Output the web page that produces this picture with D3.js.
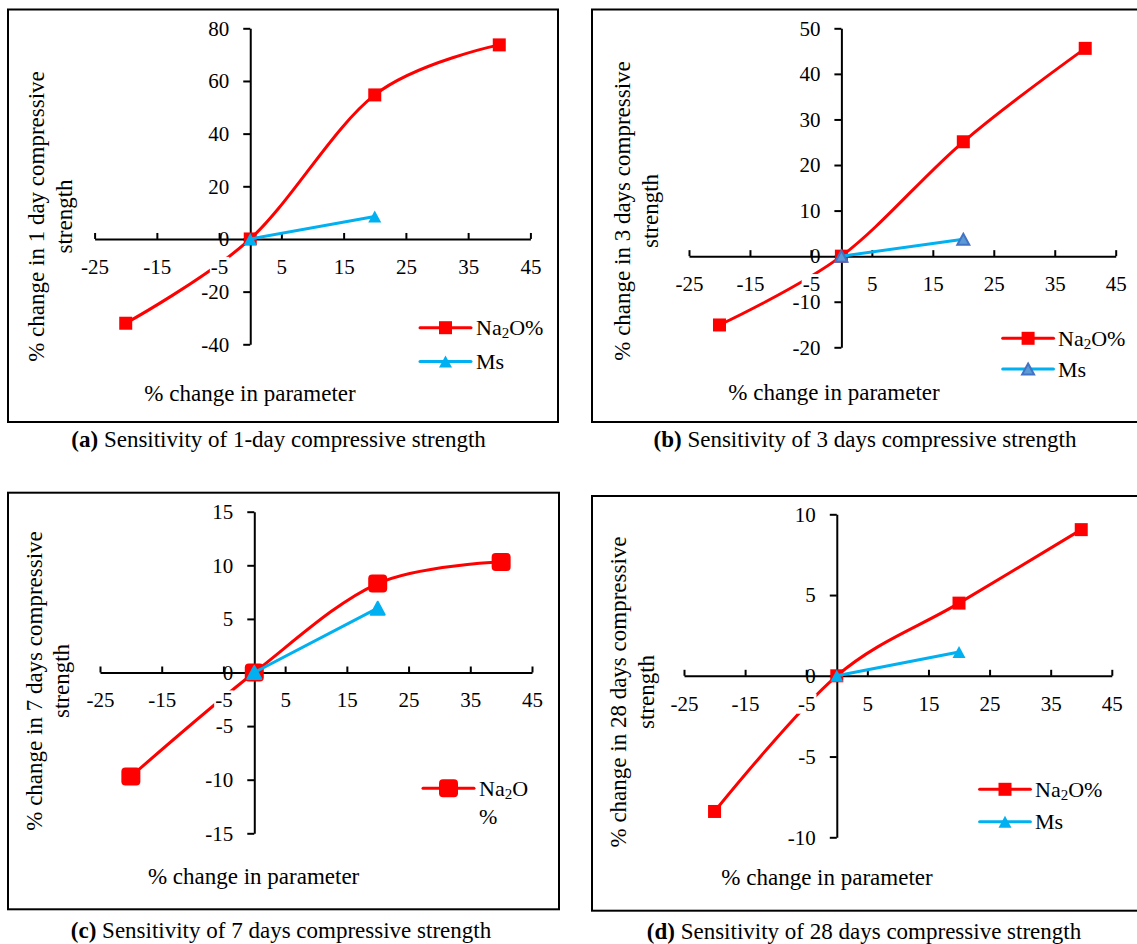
<!DOCTYPE html>
<html>
<head>
<meta charset="utf-8">
<script src="https://cdn.jsdelivr.net/npm/d3@7/dist/d3.min.js"></script>
<style>
  html, body { margin: 0; padding: 0; background: #fff; }
  svg { display: block; font-family: "Liberation Serif", "Times New Roman", serif; }
</style>
</head>
<body>
<svg id="chart" width="1137" height="944"></svg>
<script>
// ---------------- data ----------------
const xValues = [-20, 0, 20, 40];
const msXValues = [0, 20];
const xTicks = [-25, -15, -5, 5, 15, 25, 35, 45];

const na2o1 = [-32, 0, 54.7, 73.7];
const ms1 = [0, 8.5];
const yTicks1 = [-40, -20, 0, 20, 40, 60, 80];

const na2o3 = [-15.1, 0, 25.1, 45.6];
const ms3 = [0, 3.7];
const yTicks3 = [-20, -10, 0, 10, 20, 30, 40, 50];

const na2o7 = [-9.7, 0, 8.3, 10.3];
const ms7 = [0, 6.0];
const yTicks7 = [-15, -10, -5, 0, 5, 10, 15];

const na2o28 = [-8.4, 0, 4.5, 9.05];
const ms28 = [0, 1.47];
const yTicks28 = [-10, -5, 0, 5, 10];

const seriesNames = ["Na₂O%", "Ms"];
const xTitle = "% change in parameter";
const yTitles = [
  ["% change in 1 day compressive", "strength"],
  ["% change in 3 days compressive", "strength"],
  ["% change in 7 days compressive", "strength"],
  ["% change in 28 days compressive", "strength"]
];
const captionLabels = ["(a)", "(b)", "(c)", "(d)"];
const captions = [
  " Sensitivity of 1-day compressive strength",
  " Sensitivity of 3 days compressive strength",
  " Sensitivity of 7 days compressive strength",
  " Sensitivity of 28 days compressive strength"
];

// ---------------- layout ----------------
const RED = "#FF0000", BLUE = "#00B0F0";
const fmt = d => String(d);
const panels = [
  { na: na2o1, ms: ms1, yTicks: yTicks1, ydom: [-40, 80],
    frame: [8, 9.5, 550, 412.5], xr: [94.6, 530.4], yr: [344.3, 28.3],
    yt: [44, 72, 216.5], xt: [250, 401], cap: [278.6, 447],
    leg: { x0: 420, x1: 471, ys: [327.7, 361.5], tx: 476, both: true },
    style: "plain" },
  { na: na2o3, ms: ms3, yTicks: yTicks3, ydom: [-20, 50],
    frame: [592, 9.5, 550, 412.5], xr: [689, 1115.7], yr: [347.3, 28.3],
    yt: [630, 657.5, 211], xt: [834, 400], cap: [865, 447],
    leg: { x0: 1002.7, x1: 1053.5, ys: [338.3, 369], tx: 1058, both: true },
    style: "outlined" },
  { na: na2o7, ms: ms7, yTicks: yTicks7, ydom: [-15, 15],
    frame: [8, 492.7, 551, 416.6], xr: [100, 532], yr: [833.3, 511.7],
    yt: [42.3, 69, 681], xt: [253.6, 884], cap: [281, 937.5],
    leg: { x0: 423, x1: 474, ys: [788.3], tx: 479, both: false },
    style: "round" },
  { na: na2o28, ms: ms28, yTicks: yTicks28, ydom: [-10, 10],
    frame: [592, 496, 550, 414.7], xr: [684, 1111.8], yr: [837.3, 514.3],
    yt: [626, 654, 692], xt: [827, 885], cap: [864, 938.5],
    leg: { x0: 979.6, x1: 1030.4, ys: [789.3, 821.7], tx: 1035, both: true },
    style: "plain" }
];

const svg = d3.select("#chart");
svg.append("rect").attr("width", 1137).attr("height", 944).attr("fill", "#fff");

function triPath(cx, cy, w, h) {
  return `M${cx},${cy - h / 2}L${cx + w / 2},${cy + h / 2}L${cx - w / 2},${cy + h / 2}Z`;
}

function drawSquare(g, cx, cy, style) {
  if (style === "round") {
    g.append("rect").attr("x", cx - 9.5).attr("y", cy - 9).attr("width", 19).attr("height", 18)
      .attr("rx", 4).attr("fill", RED);
  } else {
    g.append("rect").attr("x", cx - 6.5).attr("y", cy - 6.5).attr("width", 13).attr("height", 13)
      .attr("fill", RED);
  }
}
function drawTri(g, cx, cy, style) {
  if (style === "round") {
    g.append("path").attr("d", triPath(cx, cy, 14, 13)).attr("fill", BLUE)
      .attr("stroke", BLUE).attr("stroke-width", 2).attr("stroke-linejoin", "round");
  } else if (style === "outlined") {
    g.append("path").attr("d", triPath(cx, cy, 12, 11)).attr("fill", "#5B9BD5")
      .attr("stroke", "#4472C4").attr("stroke-width", 2).attr("stroke-linejoin", "miter");
  } else {
    g.append("path").attr("d", triPath(cx, cy, 13, 12)).attr("fill", BLUE);
  }
}

panels.forEach((p, i) => {
  const g = svg.append("g");
  const x = d3.scaleLinear().domain([-25, 45]).range(p.xr);
  const y = d3.scaleLinear().domain(p.ydom).range(p.yr);
  const x0 = x(0), y0 = y(0);

  // frame
  g.append("rect").attr("x", p.frame[0]).attr("y", p.frame[1])
    .attr("width", p.frame[2]).attr("height", p.frame[3])
    .attr("fill", "none").attr("stroke", "#000").attr("stroke-width", 2);

  // x axis (line + ticks pointing up)
  const xAxisG = g.append("g").attr("transform", `translate(0,${y0})`)
    .call(d3.axisBottom(x).tickValues(xTicks).tickSize(-6).tickSizeOuter(0).tickFormat(""));
  // y axis
  const yAxisG = g.append("g").attr("transform", `translate(${x0},0)`)
    .call(d3.axisLeft(y).tickValues(p.yTicks).tickSize(7).tickSizeOuter(0).tickPadding(14)
      .tickFormat(fmt));
  [xAxisG, yAxisG].forEach(a => {
    a.selectAll("path.domain").attr("stroke", "#000").attr("stroke-width", 2);
    a.selectAll(".tick line").attr("stroke", "#000").attr("stroke-width", 2);
    a.selectAll("text").attr("font-size", 21).attr("fill", "#000")
      .attr("font-family", "'Liberation Serif', 'Times New Roman', serif");
  });

  // series
  const naData = xValues.map((v, k) => [v, p.na[k]]);
  const msData = msXValues.map((v, k) => [v, p.ms[k]]);
  const smooth = d3.line().x(d => x(d[0])).y(d => y(d[1])).curve(d3.curveCatmullRom.alpha(0));
  const straight = d3.line().x(d => x(d[0])).y(d => y(d[1]));
  g.append("path").attr("d", smooth(naData)).attr("fill", "none").attr("stroke", RED)
    .attr("stroke-width", 3).attr("stroke-linejoin", "round").attr("stroke-linecap", "round");
  naData.forEach(d => drawSquare(g, x(d[0]), y(d[1]), p.style));
  g.append("path").attr("d", straight(msData)).attr("fill", "none").attr("stroke", BLUE)
    .attr("stroke-width", 3).attr("stroke-linecap", "round");
  msData.forEach(d => drawTri(g, x(d[0]), y(d[1]), p.style));

  // x tick labels on top with white background
  const xLab = g.append("g").attr("transform", `translate(0,${y0})`)
    .call(d3.axisBottom(x).tickValues(xTicks).tickSize(0).tickPadding(20).tickFormat(fmt));
  xLab.select("path.domain").remove();
  xLab.selectAll("text").attr("font-size", 21).attr("fill", "#000")
    .attr("font-family", "'Liberation Serif', 'Times New Roman', serif");
  xLab.selectAll(".tick").each(function () {
    const t = d3.select(this).select("text");
    const bb = t.node().getBBox();
    d3.select(this).insert("rect", "text").attr("x", bb.x - 1).attr("y", bb.y + 2)
      .attr("width", bb.width + 2).attr("height", bb.height - 4).attr("fill", "#fff");
  });

  // y title (two rotated lines)
  [0, 1].forEach(k => {
    g.append("text").attr("transform", `translate(${p.yt[k]},${p.yt[2]}) rotate(-90)`)
      .attr("text-anchor", "middle").attr("font-size", 23).attr("fill", "#000")
      .text(yTitles[i][k]);
  });
  // x title
  g.append("text").attr("x", p.xt[0]).attr("y", p.xt[1]).attr("text-anchor", "middle")
    .attr("font-size", 23).attr("fill", "#000").text(xTitle);

  // caption
  const cap = g.append("text").attr("x", p.cap[0]).attr("y", p.cap[1]).attr("text-anchor", "middle")
    .attr("font-size", 23).attr("fill", "#000");
  cap.append("tspan").attr("font-weight", "bold").text(captionLabels[i]);
  cap.append("tspan").text(captions[i]);

  // legend
  const L = p.leg;
  const mid = (L.x0 + L.x1) / 2;
  g.append("line").attr("x1", L.x0).attr("x2", L.x1).attr("y1", L.ys[0]).attr("y2", L.ys[0])
    .attr("stroke", RED).attr("stroke-width", 3).attr("stroke-linecap", "round");
  drawSquare(g, mid, L.ys[0], p.style);
  const t1 = g.append("text").attr("x", L.tx).attr("y", L.ys[0] + 7.5).attr("font-size", 22).attr("fill", "#000");
  t1.append("tspan").text("Na");
  t1.append("tspan").attr("font-size", 15).attr("dy", 3).text("2");
  t1.append("tspan").attr("dy", -3).text(L.both ? "O%" : "O");
  if (L.both) {
    g.append("line").attr("x1", L.x0).attr("x2", L.x1).attr("y1", L.ys[1]).attr("y2", L.ys[1])
      .attr("stroke", BLUE).attr("stroke-width", 3).attr("stroke-linecap", "round");
    drawTri(g, mid, L.ys[1], p.style);
    g.append("text").attr("x", L.tx).attr("y", L.ys[1] + 7.5).attr("font-size", 22).attr("fill", "#000")
      .text(seriesNames[1]);
  } else {
    g.append("text").attr("x", L.tx).attr("y", L.ys[0] + 35.5).attr("font-size", 22).attr("fill", "#000")
      .text("%");
  }
});
</script>
</body>
</html>
